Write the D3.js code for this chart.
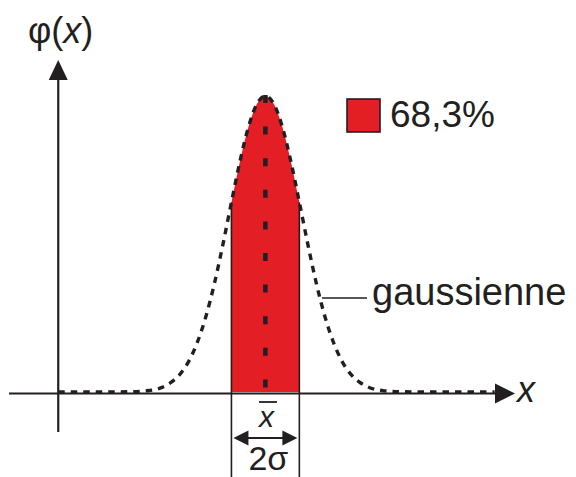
<!DOCTYPE html>
<html>
<head>
<meta charset="utf-8">
<script src="https://cdn.jsdelivr.net/npm/d3@7"></script>
<style>
  body { margin: 0; background: #fff; }
  text { font-family: "Liberation Sans", Arial, sans-serif; fill: #231f20; }
</style>
</head>
<body>
<div id="chart"></div>
<script>
// Gaussian curve (x in units of sigma, phi normalised to the peak)
const curveX = [-6.1, -5, -4, -3.5, -3, -2.75, -2.5, -2.25, -2, -1.75, -1.5, -1.25, -1, -0.75, -0.5, -0.25,
                0, 0.25, 0.5, 0.75, 1, 1.25, 1.5, 1.75, 2, 2.25, 2.5, 2.75, 3, 3.5, 4, 5, 6.75];
const curveY = [0, 0, 0.001, 0.004, 0.018, 0.035, 0.062, 0.105, 0.169, 0.256, 0.367, 0.499, 0.641, 0.779, 0.895, 0.973,
                1, 0.973, 0.895, 0.779, 0.641, 0.499, 0.367, 0.256, 0.169, 0.105, 0.062, 0.035, 0.018, 0.004, 0.001, 0, 0];

// shaded band: mean +/- one sigma
const band = [-1, 1];
const meanX = 0;

// labels
const yLabel = ["φ(", "x", ")"];
const xLabel = "x";
const legendLabel = "68,3%";
const curveLabel = "gaussienne";
const meanLabel = "x";
const widthLabel = "2σ";

const width = 576, height = 477;
const ink = "#231f20", red = "#e31e24";

const svg = d3.select("#chart").append("svg")
  .attr("width", width)
  .attr("height", height);

// scales
const x = d3.scaleLinear().domain([-7.55, 7.35]).range([9, 515]);
const y = d3.scaleLinear().domain([0, 1]).range([392, 96]);
const axisY = 393.5;
const yAxisX = x(-6.1);

const pts = curveX.map((d, i) => ({x: d, y: curveY[i]}));
const lineGen = d3.line().x(d => x(d.x)).y(d => y(d.y)).curve(d3.curveMonotoneX);
const areaGen = d3.area().x(d => x(d.x)).y0(y(0)).y1(d => y(d.y)).curve(d3.curveMonotoneX);

// red band, clipped between -sigma and +sigma
svg.append("clipPath").attr("id", "bandClip")
  .append("rect")
  .attr("x", x(band[0])).attr("y", 0)
  .attr("width", x(band[1]) - x(band[0])).attr("height", height);

svg.append("path")
  .datum(pts)
  .attr("d", areaGen)
  .attr("fill", red)
  .attr("clip-path", "url(#bandClip)");

// vertical band edges, going down to the 2 sigma marker
const phiAt = v => curveY[curveX.indexOf(v)];
svg.selectAll(".edge")
  .data(band)
  .enter().append("line")
  .attr("class", "edge")
  .attr("x1", d => x(d)).attr("x2", d => x(d))
  .attr("y1", d => y(phiAt(d)))
  .attr("y2", height)
  .attr("stroke", ink)
  .attr("stroke-width", 1.6);

// axes
svg.append("line")
  .attr("x1", 9).attr("x2", 497)
  .attr("y1", axisY).attr("y2", axisY)
  .attr("stroke", ink).attr("stroke-width", 2.2);
svg.append("path")
  .attr("d", `M515,${axisY} L495,${axisY - 10} L495,${axisY + 10} Z`)
  .attr("fill", ink);

svg.append("line")
  .attr("x1", yAxisX).attr("x2", yAxisX)
  .attr("y1", 432).attr("y2", 78)
  .attr("stroke", ink).attr("stroke-width", 2.2);
svg.append("path")
  .attr("d", `M${yAxisX},60 L${yAxisX - 9.5},80 L${yAxisX + 9.5},80 Z`)
  .attr("fill", ink);

// dashed gaussian
svg.append("path")
  .datum(pts)
  .attr("d", lineGen)
  .attr("fill", "none")
  .attr("stroke", ink)
  .attr("stroke-width", 3.4)
  .attr("stroke-dasharray", "6.5,6");

// dashed mean line
svg.append("line")
  .attr("x1", x(meanX)).attr("x2", x(meanX))
  .attr("y1", y(1) - 1).attr("y2", y(0))
  .attr("stroke", ink)
  .attr("stroke-width", 4.5)
  .attr("stroke-dasharray", "8,23.6");

// y label  phi(x)
const yl = svg.append("text")
  .attr("x", 28).attr("y", 43)
  .attr("font-size", 36);
yl.append("tspan").text(yLabel[0]);
yl.append("tspan").attr("font-style", "italic").text(yLabel[1]);
yl.append("tspan").text(yLabel[2]);

// x label
svg.append("text")
  .attr("x", 517).attr("y", 402)
  .attr("font-size", 36)
  .attr("font-style", "italic")
  .text(xLabel);

// legend
svg.append("rect")
  .attr("x", 347).attr("y", 99)
  .attr("width", 33).attr("height", 33)
  .attr("fill", red)
  .attr("stroke", ink).attr("stroke-width", 1.6);
svg.append("text")
  .attr("x", 390).attr("y", 127)
  .attr("font-size", 37)
  .text(legendLabel);

// curve label with leader line
svg.append("line")
  .attr("x1", 322).attr("x2", 367)
  .attr("y1", 298).attr("y2", 298)
  .attr("stroke", ink).attr("stroke-width", 1.6);
svg.append("text")
  .attr("x", 372).attr("y", 305)
  .attr("font-size", 38)
  .text(curveLabel);

// mean label x-bar
svg.append("text")
  .attr("x", x(meanX) + 1).attr("y", 427)
  .attr("text-anchor", "middle")
  .attr("font-size", 30)
  .attr("font-style", "italic")
  .text(meanLabel);
svg.append("line")
  .attr("x1", 259).attr("x2", 277)
  .attr("y1", 402).attr("y2", 402)
  .attr("stroke", ink).attr("stroke-width", 1.8);

// double arrow for 2 sigma
const ay = 438, ax0 = x(band[0]) + 2, ax1 = x(band[1]) - 2;
svg.append("line")
  .attr("x1", ax0 + 10).attr("x2", ax1 - 10)
  .attr("y1", ay).attr("y2", ay)
  .attr("stroke", ink).attr("stroke-width", 2.2);
svg.append("path")
  .attr("d", `M${ax0},${ay} L${ax0 + 15},${ay - 7.5} L${ax0 + 15},${ay + 7.5} Z`)
  .attr("fill", ink);
svg.append("path")
  .attr("d", `M${ax1},${ay} L${ax1 - 15},${ay - 7.5} L${ax1 - 15},${ay + 7.5} Z`)
  .attr("fill", ink);

svg.append("text")
  .attr("x", x(meanX) + 3).attr("y", 469.5)
  .attr("text-anchor", "middle")
  .attr("font-size", 34)
  .text(widthLabel);
</script>
</body>
</html>
